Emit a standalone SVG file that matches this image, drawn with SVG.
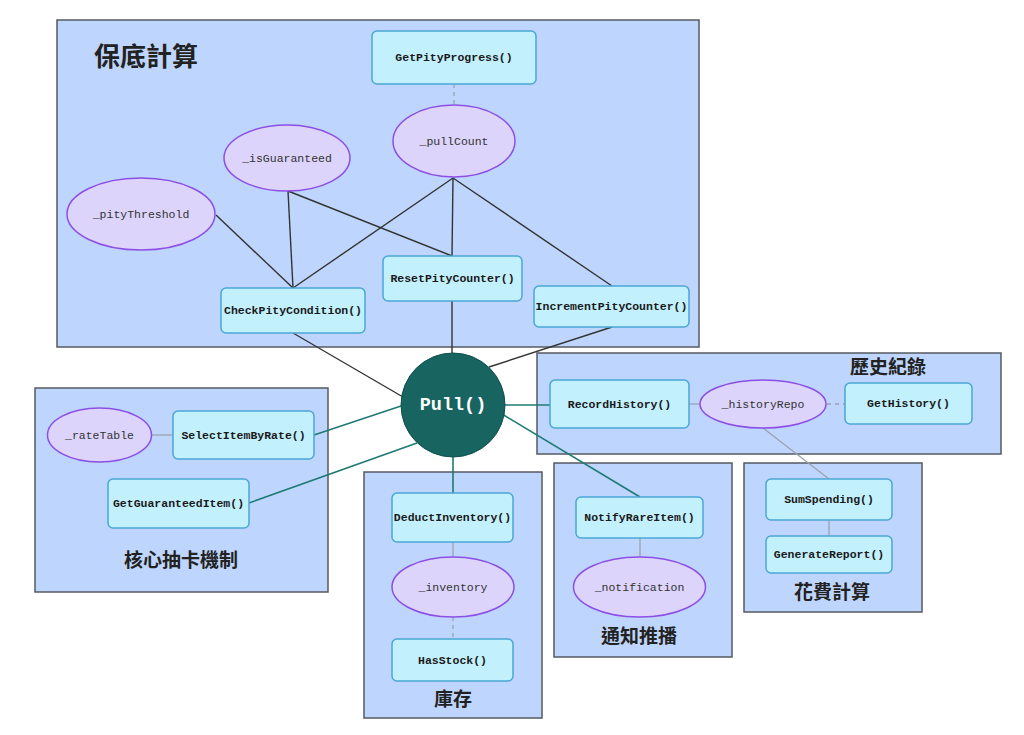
<svg xmlns="http://www.w3.org/2000/svg" width="1024" height="735" viewBox="0 0 1024 735">
<style>
.grp{fill:#bed6fd;stroke:#555a60;stroke-width:1.5}
.fn rect{fill:#c3f0fd;stroke:#4ba6d6;stroke-width:1.5}
.var ellipse{fill:#dcd4fb;stroke:#8b4fe6;stroke-width:1.5}
.fn text{font-family:"Liberation Mono","DejaVu Sans Mono",monospace;font-size:11.5px;font-weight:bold;fill:#1a1a1a;text-anchor:middle;dominant-baseline:central}
.var text{font-family:"Liberation Mono","DejaVu Sans Mono",monospace;font-size:11.5px;fill:#333;text-anchor:middle;dominant-baseline:central}
.title{font-family:"Noto Sans CJK TC","Noto Sans CJK SC",sans-serif;font-weight:bold;fill:#222;text-anchor:middle}
.dk{stroke:#333;stroke-width:1.4;fill:none}
.tl{stroke:#1f7a74;stroke-width:1.6;fill:none}
.gy{stroke:#9aa3b0;stroke-width:1.3;fill:none}
.ds{stroke:#9aa3b0;stroke-width:1.3;fill:none;stroke-dasharray:4 4}
</style>
<rect width="1024" height="735" fill="#ffffff"/>
<g id="groups">
<g id="g-pity"><rect class="grp" x="57" y="20" width="642" height="327"/><text class="title" x="146" y="66" font-size="26">保底計算</text></g>
<g id="g-core"><rect class="grp" x="35" y="388" width="293" height="204"/><text class="title" x="181" y="567" font-size="19">核心抽卡機制</text></g>
<g id="g-inv"><rect class="grp" x="364" y="472" width="178" height="246"/><text class="title" x="453" y="706" font-size="19">庫存</text></g>
<g id="g-hist"><rect class="grp" x="537" y="353" width="464" height="101"/><text class="title" x="888" y="374" font-size="19">歷史紀錄</text></g>
<g id="g-notify"><rect class="grp" x="554" y="463" width="178" height="194"/><text class="title" x="639" y="643" font-size="19">通知推播</text></g>
<g id="g-spend"><rect class="grp" x="744" y="463" width="178" height="149"/><text class="title" x="832" y="599" font-size="19">花費計算</text></g>
</g>
<g id="connectors">
<line class="ds" x1="454" y1="84" x2="454" y2="105"/>
<line class="dk" x1="216" y1="215" x2="293" y2="288"/>
<line class="dk" x1="288" y1="191" x2="293" y2="288"/>
<line class="dk" x1="288" y1="191" x2="452" y2="256"/>
<line class="dk" x1="453" y1="178" x2="293" y2="288"/>
<line class="dk" x1="453" y1="178" x2="452" y2="256"/>
<line class="dk" x1="453" y1="178" x2="612" y2="286"/>
<line class="dk" x1="293" y1="333" x2="403" y2="397"/>
<line class="dk" x1="452" y1="301" x2="452" y2="353"/>
<line class="dk" x1="612" y1="327" x2="489" y2="367"/>
<line class="gy" x1="152" y1="435" x2="173" y2="435"/>
<line class="tl" x1="314" y1="435" x2="401" y2="406"/>
<line class="tl" x1="249" y1="503" x2="417" y2="443"/>
<line class="tl" x1="453" y1="457" x2="453" y2="493"/>
<line class="gy" x1="453" y1="542" x2="453" y2="557"/>
<line class="ds" x1="453" y1="617" x2="453" y2="639"/>
<line class="tl" x1="505" y1="405" x2="550" y2="405"/>
<line class="tl" x1="502" y1="414" x2="640" y2="497"/>
<line class="gy" x1="640" y1="538" x2="640" y2="557"/>
<line class="gy" x1="689" y1="404" x2="700" y2="404"/>
<line class="ds" x1="827" y1="404" x2="845" y2="404"/>
<line class="gy" x1="763" y1="428" x2="829" y2="479"/>
<line class="gy" x1="829" y1="520" x2="829" y2="536"/>
</g>
<g id="n-getpity" class="fn"><rect x="372" y="31" width="164" height="53" rx="5"/><text x="454" y="57.5">GetPityProgress()</text></g>
<g id="n-pullcount" class="var"><ellipse cx="454" cy="141" rx="61" ry="36"/><text x="454" y="141">_pullCount</text></g>
<g id="n-isguar" class="var"><ellipse cx="287" cy="158" rx="63" ry="33"/><text x="287" y="158">_isGuaranteed</text></g>
<g id="n-pitythr" class="var"><ellipse cx="141" cy="214" rx="74" ry="36"/><text x="141" y="214">_pityThreshold</text></g>
<g id="n-check" class="fn"><rect x="221" y="288" width="144" height="45" rx="5"/><text x="293" y="310.5">CheckPityCondition()</text></g>
<g id="n-reset" class="fn"><rect x="383" y="256" width="139" height="45" rx="5"/><text x="452.5" y="278.5">ResetPityCounter()</text></g>
<g id="n-incr" class="fn"><rect x="534" y="286" width="155" height="41" rx="5"/><text x="611.5" y="306.5">IncrementPityCounter()</text></g>
<g id="n-pull"><circle cx="453" cy="405" r="52" fill="#176461" stroke="#0f4f4c" stroke-width="1"/><text x="453" y="405" font-family="Liberation Mono,DejaVu Sans Mono,monospace" font-size="18.5" font-weight="bold" fill="#ffffff" text-anchor="middle" dominant-baseline="central">Pull()</text></g>
<g id="n-ratetable" class="var"><ellipse cx="99.5" cy="435" rx="52" ry="27"/><text x="99.5" y="435">_rateTable</text></g>
<g id="n-select" class="fn"><rect x="173" y="411" width="141" height="48" rx="5"/><text x="243.5" y="435">SelectItemByRate()</text></g>
<g id="n-getguar" class="fn"><rect x="108" y="479" width="141" height="49" rx="5"/><text x="178.5" y="503.5">GetGuaranteedItem()</text></g>
<g id="n-deduct" class="fn"><rect x="392" y="493" width="121" height="49" rx="5"/><text x="452.5" y="517.5">DeductInventory()</text></g>
<g id="n-inventory" class="var"><ellipse cx="453" cy="587" rx="61" ry="30"/><text x="453" y="587">_inventory</text></g>
<g id="n-hasstock" class="fn"><rect x="392" y="639" width="121" height="42" rx="5"/><text x="452.5" y="660">HasStock()</text></g>
<g id="n-record" class="fn"><rect x="550" y="380" width="139" height="48" rx="5"/><text x="619.5" y="404">RecordHistory()</text></g>
<g id="n-historyrepo" class="var"><ellipse cx="763" cy="404" rx="63" ry="24"/><text x="763" y="404">_historyRepo</text></g>
<g id="n-gethistory" class="fn"><rect x="845" y="383" width="127" height="41" rx="5"/><text x="908.5" y="403.5">GetHistory()</text></g>
<g id="n-notify" class="fn"><rect x="576" y="497" width="127" height="41" rx="5"/><text x="639.5" y="517.5">NotifyRareItem()</text></g>
<g id="n-notification" class="var"><ellipse cx="639.5" cy="587" rx="66" ry="30"/><text x="639.5" y="587">_notification</text></g>
<g id="n-sum" class="fn"><rect x="766" y="479" width="126" height="41" rx="5"/><text x="829" y="499.5">SumSpending()</text></g>
<g id="n-report" class="fn"><rect x="766" y="536" width="126" height="37" rx="5"/><text x="829" y="554.5">GenerateReport()</text></g>
</svg>
